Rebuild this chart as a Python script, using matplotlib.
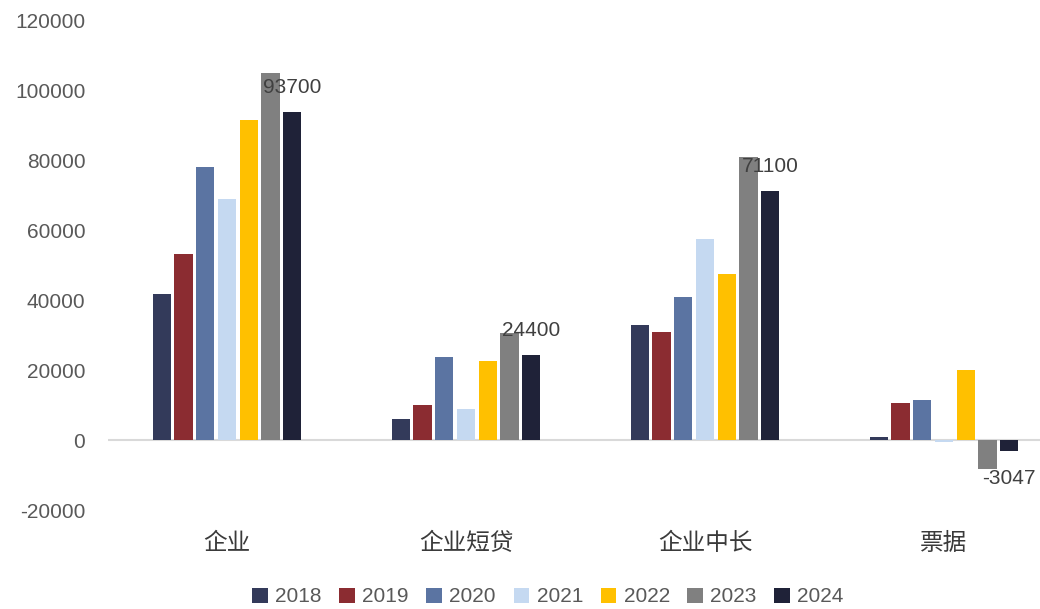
import matplotlib
matplotlib.use("Agg")
import matplotlib.pyplot as plt
import numpy as np

categories = ["企业", "企业短贷", "企业中长", "票据"]
years = ["2018", "2019", "2020", "2021", "2022", "2023", "2024"]
v2018 = [41600, 6000, 32900, 800]
v2019 = [53100, 10100, 30800, 10600]
v2020 = [77900, 23800, 40900, 11500]
v2021 = [68800, 9000, 57400, -600]
v2022 = [91400, 22700, 47300, 20000]
v2023 = [104800, 30500, 80800, -8300]
v2024 = [93700, 24400, 71100, -3047]
series = [v2018, v2019, v2020, v2021, v2022, v2023, v2024]
label_texts = ["93700", "24400", "71100", "-3047"]
label_y = [100600, 31400, 78100, -10900]

colors = ["#333A5A", "#8B2C31", "#5B74A2", "#C5D9F1", "#FFC000", "#808080", "#1F2238"]

plt.rcParams['font.family'] = ['Liberation Sans', 'Noto Sans CJK SC', 'DejaVu Sans']

W, H = 1040, 609
fig = plt.figure(figsize=(W/100, H/100), dpi=100)
ax = fig.add_axes([107.5/W, (H-510)/H, (1063.5-107.5)/W, 490/H])

x = np.arange(len(categories))
pitch = 0.0908
bw = 0.0766
handles = []
for i, (vals, c, yr) in enumerate(zip(series, colors, years)):
    b = ax.bar(x + (i-3)*pitch, vals, width=bw, color=c, label=yr, zorder=3)
    handles.append(b)

for j, (t, yv) in enumerate(zip(label_texts, label_y)):
    ax.text(x[j] + 3*pitch, yv, t, ha='center', va='center', fontsize=15, color='#404040', zorder=4)

ax.set_xlim(-0.5, 3.5)
ax.set_ylim(-20000, 120000)
ax.set_yticks(np.arange(-20000, 120001, 20000))
ax.set_yticklabels([str(v) for v in range(-20000, 120001, 20000)])
ax.set_xticks(x)
ax.set_xticklabels(categories, family=['Noto Sans CJK SC', 'DejaVu Sans'], fontsize=17,
                   color='#3A3A3A', fontweight='medium')
ax.tick_params(axis='y', length=0, labelsize=15, labelcolor='#595959', pad=16)
ax.tick_params(axis='x', length=0, pad=15.5)
for s in ax.spines.values():
    s.set_visible(False)
ax.axhline(0, color='#D9D9D9', lw=1.5, zorder=2)

fig.legend(handles=handles, labels=years, loc='center', bbox_to_anchor=(548/W, (H-597)/H),
           ncol=7, frameon=False, fontsize=15, handlelength=0.75, handleheight=0.75,
           handletextpad=0.35, columnspacing=0.85, labelcolor='#595959')

fig.savefig("out.png", dpi=100)
